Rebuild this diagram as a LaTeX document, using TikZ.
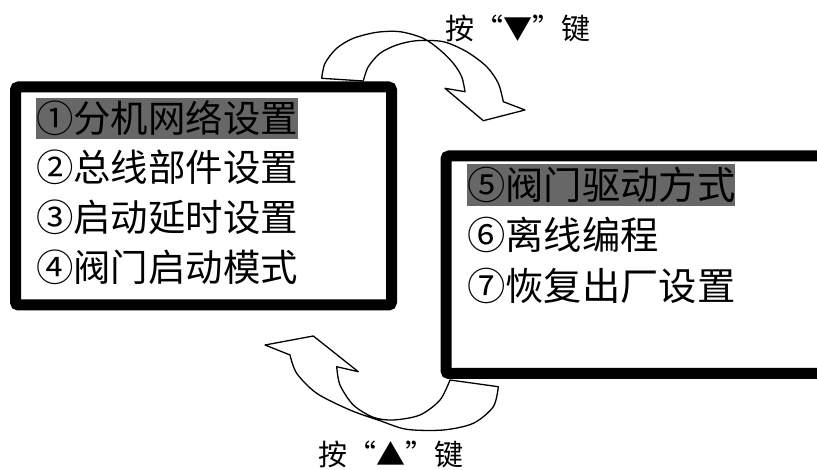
\documentclass[tikz,border=0pt]{standalone}
\usepackage{fontspec}
\newfontfamily\cjk{Noto Sans CJK SC}
\definecolor{hl}{HTML}{676767}
\begin{document}
\begin{tikzpicture}[x=1pt,y=-1pt,
  frame/.style={draw=black, line width=11pt, rounded corners=3pt},
  blockarrow/.style={draw=black, line width=1.3pt, fill=white, line join=round},
  itemL/.style={anchor=west, inner xsep=0pt, inner ysep=2pt, font={\cjk\fontsize{37.4pt}{40pt}\selectfont}, text height=32.9pt, text depth=4.5pt},
  itemR/.style={anchor=west, inner xsep=0pt, inner ysep=2pt, font={\cjk\fontsize{38.3pt}{40pt}\selectfont}, text height=33.7pt, text depth=4.6pt},
  sel/.style={fill=hl},
  keylabel/.style={anchor=west, inner sep=0pt, font={\cjk\fontsize{29pt}{32pt}\selectfont}, text height=25.5pt, text depth=3.5pt}
]
\useasboundingbox (0,0) rectangle (817,470);
\clip (0,0) rectangle (817,470);

% top curved arrow (down key)
\path[blockarrow]
  plot[smooth] coordinates {(321.7,78.3) (325,63.3) (336.7,48.3) (353.3,38.3) (376.7,32.3) (400,31.7) (423.3,38.3) (440,50) (453.3,63.3) (461.7,76.7) (465,91.7)}
  -- (445,88.3) -- (483.3,120.7) -- (525,110)
  -- plot[smooth] coordinates {(503.3,101.7) (498.3,83.3) (486.7,66.7) (466.7,51.7) (443.3,41.7) (416.7,40.7) (396.7,45) (380,53.3) (368.3,66.7) (363.3,81)}
  -- cycle;

% bottom curved arrow (up key)
\path[blockarrow]
  plot[smooth] coordinates {(450,380) (440,400) (420,415) (393.3,420) (373.3,417.3) (353.3,405) (340,385) (336.7,366.7)}
  -- (358.3,371.7) -- (313.3,336) -- (265,345)
  -- plot[smooth] coordinates {(290,355) (296.7,373.3) (316.7,393.3) (350,410) (380,420.7) (406.7,429.3) (443.3,430) (473.3,423.3) (493.3,406.7) (498.3,386.7)}
  -- cycle;

% menu frames
\draw[frame] (15.5,87) rectangle (391.5,305);
\draw[frame] (446,156) rectangle (840,373.5);

% left menu
\node[itemL, sel] (l1) at (36,118.5) {①分机网络设置};
\node[itemL] (l2) at (36,167.5) {②总线部件设置};
\node[itemL] (l3) at (36,217.5) {③启动延时设置};
\node[itemL] (l4) at (36,267.5) {④阀门启动模式};

% right menu
\node[itemR, sel] (r1) at (467,185) {⑤阀门驱动方式};
\node[itemR] (r2) at (467,235) {⑥离线编程};
\node[itemR] (r3) at (467,286) {⑦恢复出厂设置};

% key labels
\node[keylabel] (kdown) at (445.5,29) {按“▼”键};
\node[keylabel] (kup) at (318.5,454) {按“▲”键};
\end{tikzpicture}
\end{document}
